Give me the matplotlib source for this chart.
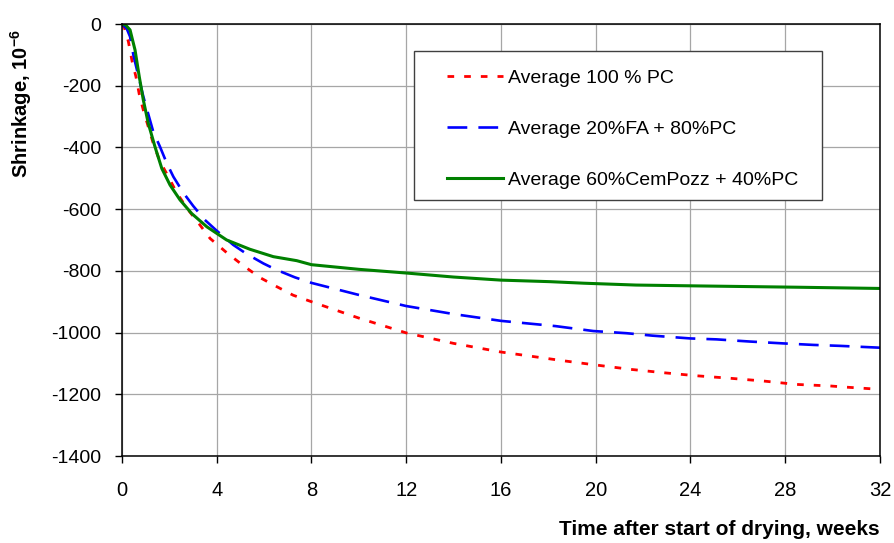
import matplotlib
matplotlib.use("Agg")
import matplotlib.pyplot as plt
from matplotlib.patches import Rectangle

plt.rcParams['font.family'] = ['Liberation Sans', 'DejaVu Sans']
plt.rcParams['axes.unicode_minus'] = False
plt.rcParams['mathtext.fontset'] = 'custom'
plt.rcParams['mathtext.rm'] = 'Liberation Sans'
plt.rcParams['mathtext.bf'] = 'Liberation Sans:bold'

# 100 % PC
weeks_pc = [0, 0.1, 0.27, 0.43, 0.59, 0.73, 0.9, 1.11, 1.32, 1.6, 1.96, 2.31, 2.8, 3.22,
            3.72, 4.42, 5.12, 5.83, 6.53, 7.23, 8, 10, 12, 14, 16, 18.6, 20, 21.45,
            22.85, 24.26, 25.67, 27.08, 28.48, 29.9, 30.6, 32]
shrink_pc = [0, -12, -57, -122, -171, -228, -279, -333, -387, -445, -495, -547, -603, -644,
             -695, -741, -783, -822, -851, -879, -900, -953, -1001, -1035, -1063, -1091,
             -1105, -1119, -1130, -1140, -1148, -1157, -1168, -1173, -1177, -1184]

# 20%FA + 80%PC
weeks_fa = [0, 0.2, 0.34, 0.48, 0.9, 1.18, 1.32, 1.6, 1.89, 2.17, 2.59, 3.01, 3.5, 4.0,
            4.7, 5.26, 5.97, 6.53, 7.3, 8, 10, 12, 14, 16, 18.3, 19.9, 21.3, 22.4, 24,
            25.1, 26.5, 27.9, 29.2, 30.3, 32]
shrink_fa = [0, -15, -41, -100, -235, -311, -349, -397, -451, -495, -547, -590, -635, -670,
             -716, -745, -776, -797, -821, -839, -878, -914, -940, -962, -979, -995, -1002,
             -1010, -1019, -1022, -1029, -1035, -1040, -1043, -1049]

# 60%CemPozz + 40%PC
weeks_cp = [0, 0.15, 0.34, 0.55, 0.73, 0.9, 1.11, 1.39, 1.68, 2.03, 2.45, 2.94, 3.58, 4.42,
            5.4, 6.39, 7.38, 8, 10, 12, 14, 16, 18.07, 19.5, 21.7, 24.5, 28.5, 32]
shrink_cp = [0, -3, -19, -84, -171, -246, -322, -397, -468, -522, -570, -614, -657, -700,
             -730, -754, -767, -780, -795, -807, -820, -830, -835, -840, -846, -849, -853,
             -857]

labels = ['Average 100 % PC', 'Average 20%FA + 80%PC', 'Average 60%CemPozz + 40%PC']
xticks = [0, 4, 8, 12, 16, 20, 24, 28, 32]
yticks = [0, -200, -400, -600, -800, -1000, -1200, -1400]

fig = plt.figure(figsize=(8.95, 5.43), dpi=100)
ax = fig.add_axes([0.1363, 0.1602, 0.8469, 0.7956])

ax.plot(weeks_pc, shrink_pc, color='#ff0000', lw=2.0, dashes=(2.4, 3.6), label=labels[0])
ax.plot(weeks_fa, shrink_fa, color='#0000ff', lw=1.9, dashes=(7.5, 4.2), label=labels[1])
ax.plot(weeks_cp, shrink_cp, color='#008000', lw=2.2, label=labels[2])

ax.set_xlim(0, 32)
ax.set_ylim(-1400, 0)
ax.set_xticks(xticks)
ax.set_yticks(yticks)
ax.grid(True, color='#a6a6a6', lw=0.9)
ax.set_axisbelow(True)
for s in ax.spines.values():
    s.set_color('black')
    s.set_linewidth(1.1)
ax.tick_params(axis='both', labelsize=14.5, length=5, width=1, direction='out')
ax.tick_params(axis='x', pad=13)
ax.tick_params(axis='y', labelsize=14, pad=10)

ax.set_xlabel('Time after start of drying, weeks', fontsize=15, fontweight='bold', ha='right')
ax.xaxis.set_label_coords(1.0, -0.148)
ax.set_ylabel(r'Shrinkage, 10$^{\mathbf{-6}}$', fontsize=14.5, fontweight='bold')
ax.yaxis.set_label_coords(-0.116, 0.815)

# legend frame drawn separately so the inner padding can match
frame = Rectangle((0.385, 0.5926), 0.538, 0.345, transform=ax.transAxes,
                  facecolor='white', edgecolor='#404040', lw=1.0, zorder=4)
ax.add_patch(frame)
leg = ax.legend(loc='upper left', bbox_to_anchor=(0.4288, 0.896), borderaxespad=0,
                fontsize=14, frameon=False, borderpad=0, labelspacing=1.72,
                handlelength=2.9, handletextpad=0.25)
leg.set_zorder(5)

fig.savefig('out.png', dpi=100)
